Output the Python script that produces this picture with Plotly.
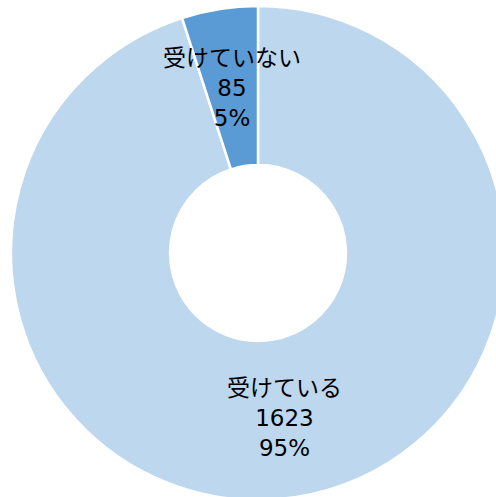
import math
import plotly.graph_objects as go

# Survey responses
labels = ["受けている", "受けていない"]
counts = [1623, 85]
colors = ["#BDD7EE", "#5B9BD5"]

W, H = 505, 500
HOLE = 0.356
DOM_X = [11 / W, 1]
DOM_Y = [0, 494 / H]
LABEL_FONT = dict(family="DejaVu Sans, Noto Sans CJK JP", size=23, color="#000000")

fig = go.Figure(
    go.Pie(
        labels=labels,
        values=counts,
        hole=HOLE,
        sort=False,
        direction="clockwise",
        rotation=0,
        marker=dict(colors=colors, line=dict(color="#FFFFFF", width=2.5)),
        textinfo="none",
        hoverinfo="none",
        domain=dict(x=DOM_X, y=DOM_Y),
    )
)

# Data labels centred in the ring at each slice's mid-angle
total = sum(counts)
radius_px = min((DOM_X[1] - DOM_X[0]) * W, (DOM_Y[1] - DOM_Y[0]) * H) / 2
cx = (DOM_X[0] + DOM_X[1]) / 2
cy = (DOM_Y[0] + DOM_Y[1]) / 2
r_mid = radius_px * (1 + HOLE) / 2
cum = 0
for lab, val in zip(labels, counts):
    mid = (cum + val / 2) / total * 2 * math.pi  # clockwise from 12 o'clock
    cum += val
    fig.add_annotation(
        x=cx + r_mid * math.sin(mid) / W,
        y=cy + r_mid * math.cos(mid) / H,
        xref="paper",
        yref="paper",
        text=f"{lab}<br>{val}<br>{round(val / total * 100)}%",
        showarrow=False,
        xanchor="center",
        yanchor="middle",
        align="center",
        font=LABEL_FONT,
    )

fig.update_layout(
    width=W,
    height=H,
    margin=dict(l=0, r=0, t=0, b=0),
    paper_bgcolor="#FFFFFF",
    plot_bgcolor="#FFFFFF",
    showlegend=False,
)

fig.write_html(
    "out.html",
    post_script="document.body.style.margin='0';document.body.style.overflow='hidden';",
)
